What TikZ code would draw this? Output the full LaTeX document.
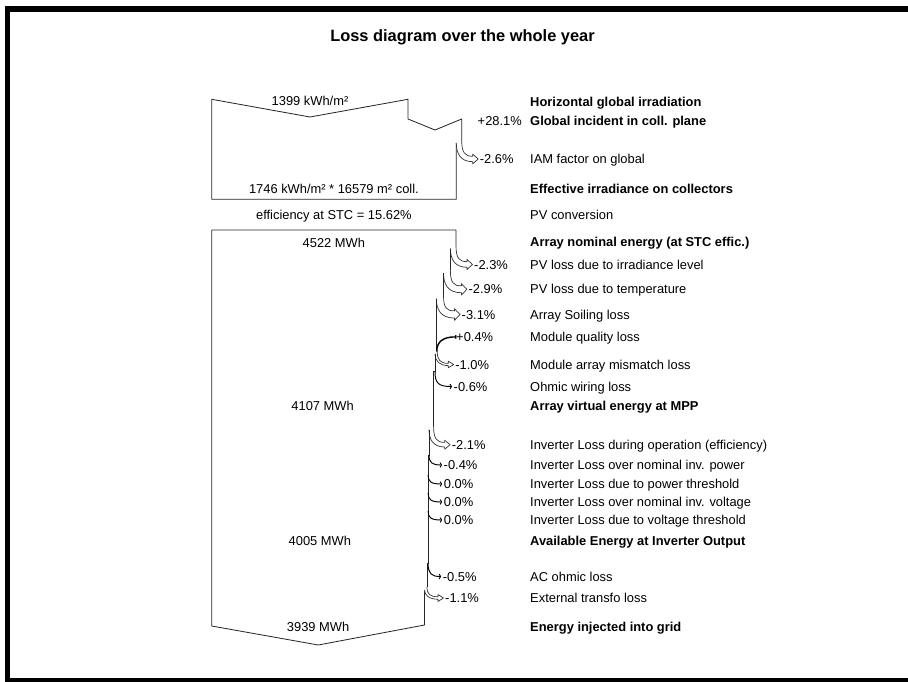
\documentclass[tikz,border=0pt]{standalone}
\usepackage{fontspec}
\setmainfont{Liberation Sans}
\usetikzlibrary{arrows.meta}

% loss band: name, old edge, new edge, row, drop, text
\newcommand\lossband[6]{%
  \pgfmathsetmacro\hw{max((#2-#3)/2,0.6)}
  \filldraw[band] (#2,#4-#5) .. controls (#2,#4-0.35*#5) and (#2+3,#4-\hw) .. (#2+11,#4-\hw)
    -- (#2+11,#4-\hw-2.2) -- (#2+16.5,#4) -- (#2+11,#4+\hw+2.2) -- (#2+11,#4+\hw)
    .. controls (#3+4,#4+\hw) and (#3,#4-0.3*#5) .. (#3,#4-#5+3);
  \node[pct] (#1) at (#2+18,#4) {#6};
}
% thin loss: name, edge, row, drop, length, text
\newcommand\thinloss[6]{%
  \draw[thinarrow] (#2,#3-#4) .. controls (#2,#3-#4/4) and (#2+3,#3) .. (#2+#5,#3);
  \node[pct] (#1) at (#2+#5+1.5,#3) {#6};
}

\begin{document}
\begin{tikzpicture}[x=0.03cm,y=-0.03cm,
  edge/.style={draw=black!85,line width=0.7pt,line join=round},
  band/.style={draw=black!80,fill=white,line width=0.6pt,line join=round},
  thinarrow/.style={draw=black,line width=0.8pt,-{Straight Barb[length=1.2pt,width=4pt]}},
  gainarrow/.style={draw=black,line width=1.2pt,{Arc Barb[reversed,length=1pt,width=4pt]}-},
  rowtext/.style={anchor=base west,inner sep=0pt,yshift=-0.14cm,font=\fontsize{11}{13}\selectfont},
  rowbold/.style={rowtext,font=\fontsize{11}{13}\selectfont\bfseries},
  pct/.style={rowtext},
  value/.style={anchor=base,inner sep=0pt,yshift=-0.14cm,font=\fontsize{11}{13}\selectfont},
  frame/.style={draw=black,line width=4.5pt}]
\useasboundingbox (0,0) rectangle (908,681);
\clip (0,0) rectangle (908,681);

% page frame
\draw[frame] (930,9) -- (7.5,9) -- (7.5,680.5) -- (930,680.5);

\node[anchor=base,inner sep=0pt,font=\fontsize{14}{16}\selectfont\bfseries] (title) at (462.5,41.8) {Loss diagram over the whole year};

% irradiation part
\draw[edge] (456.3,143) -- (456.3,199.3) -- (211.7,199.3) -- (211.7,99.3) -- (310,117) -- (408,99.3)
  -- (408,119) -- (435,130) -- (461.7,119) -- (461.7,140);
\lossband{pIam}{461.7}{456.3}{159}{19}{-2.6\%}
\node[pct] (pGlob) at (477.5,121) {+28.1\%};

% energy part
\draw[edge] (424.5,590.3) -- (424.5,625) -- (318.3,645) -- (211.7,626) -- (211.7,230) -- (456,230) -- (456,245.5);
\lossband{pIrr}{456}{450.4}{264.5}{19}{-2.3\%}
\draw[edge] (450.4,248.5) -- (450.4,270.3);
\lossband{pTemp}{450.4}{443.5}{289.3}{19}{-2.9\%}
\draw[edge] (443.5,273.3) -- (443.5,295.5);
\lossband{pSoil}{443.5}{436.3}{314.5}{19}{-3.1\%}
\draw[edge] (436.3,298.5) -- (436.3,351) -- (437.2,351);
\node[pct] (pQual) at (456,336.7) {+0.4\%};
\draw[gainarrow] (pQual.west) .. controls (443,336.7) and (436.8,342) .. (436.8,351);
\lossband{pMism}{437.2}{435}{364.5}{13.5}{-1.0\%}
\draw[edge] (435,354) -- (435,371.5) -- (433.6,371.5) -- (433.6,426.7);
\thinloss{pOhm}{435}{386.5}{15}{17}{-0.6\%}
\lossband{pInvEff}{433.6}{429}{444.7}{18}{-2.1\%}
\draw[edge] (429,429.7) -- (429,455) -- (428.1,455) -- (428.1,563.5) -- (427,563.5) -- (427,587);
\thinloss{pInvPow}{429}{465}{10}{13}{-0.4\%}
\thinloss{pInvPth}{428.1}{484}{9}{14}{0.0\%}
\thinloss{pInvVolt}{428.1}{502}{9}{14}{0.0\%}
\thinloss{pInvVth}{428.1}{520}{9}{14}{0.0\%}
\thinloss{pAc}{428.1}{576.5}{13}{13}{-0.5\%}
\lossband{pTransfo}{427}{424.5}{598}{11}{-1.1\%}

% values
\node[value] (vHoriz) at (310,100.5) {1399 kWh/m²};
\node[value] (vEff) at (333.9,189) {1746 kWh/m² * 16579 m² coll.};
\node[value] (vStc) at (333.9,215) {efficiency at STC = 15.62\%};
\node[value] (vNom) at (333.9,242.5) {4522 MWh};
\node[value] (vMpp) at (322.6,406) {4107 MWh};
\node[value] (vOut) at (319.9,540.5) {4005 MWh};
\node[value] (vGrid) at (318.1,626.5) {3939 MWh};

% row labels
\node[rowbold] (lHoriz) at (530,101.5) {Horizontal global irradiation};
\node[rowbold] (lGlob) at (530,121) {Global incident in coll. plane};
\node[rowtext] (lIam) at (530,159) {IAM factor on global};
\node[rowbold] (lEff) at (530,189.3) {Effective irradiance on collectors};
\node[rowtext] (lConv) at (530,215) {PV conversion};
\node[rowbold] (lNom) at (530,242) {Array nominal energy (at STC effic.)};
\node[rowtext] (lIrr) at (530,264.5) {PV loss due to irradiance level};
\node[rowtext] (lTemp) at (530,289.3) {PV loss due to temperature};
\node[rowtext] (lSoil) at (530,314.5) {Array Soiling loss};
\node[rowtext] (lQual) at (530,336.7) {Module quality loss};
\node[rowtext] (lMism) at (530,364.5) {Module array mismatch loss};
\node[rowtext] (lOhm) at (530,386.5) {Ohmic wiring loss};
\node[rowbold] (lMpp) at (530,406) {Array virtual energy at MPP};
\node[rowtext] (lInvEff) at (530,444.7) {Inverter Loss during operation (efficiency)};
\node[rowtext] (lInvPow) at (530,465) {Inverter Loss over nominal inv. power};
\node[rowtext] (lInvPth) at (530,484) {Inverter Loss due to power threshold};
\node[rowtext] (lInvVolt) at (530,502) {Inverter Loss over nominal inv. voltage};
\node[rowtext] (lInvVth) at (530,520) {Inverter Loss due to voltage threshold};
\node[rowbold] (lOut) at (530,540.5) {Available Energy at Inverter Output};
\node[rowtext] (lAc) at (530,576.5) {AC ohmic loss};
\node[rowtext] (lTransfo) at (530,598) {External transfo loss};
\node[rowbold] (lGrid) at (530,627) {Energy injected into grid};
\end{tikzpicture}
\end{document}
